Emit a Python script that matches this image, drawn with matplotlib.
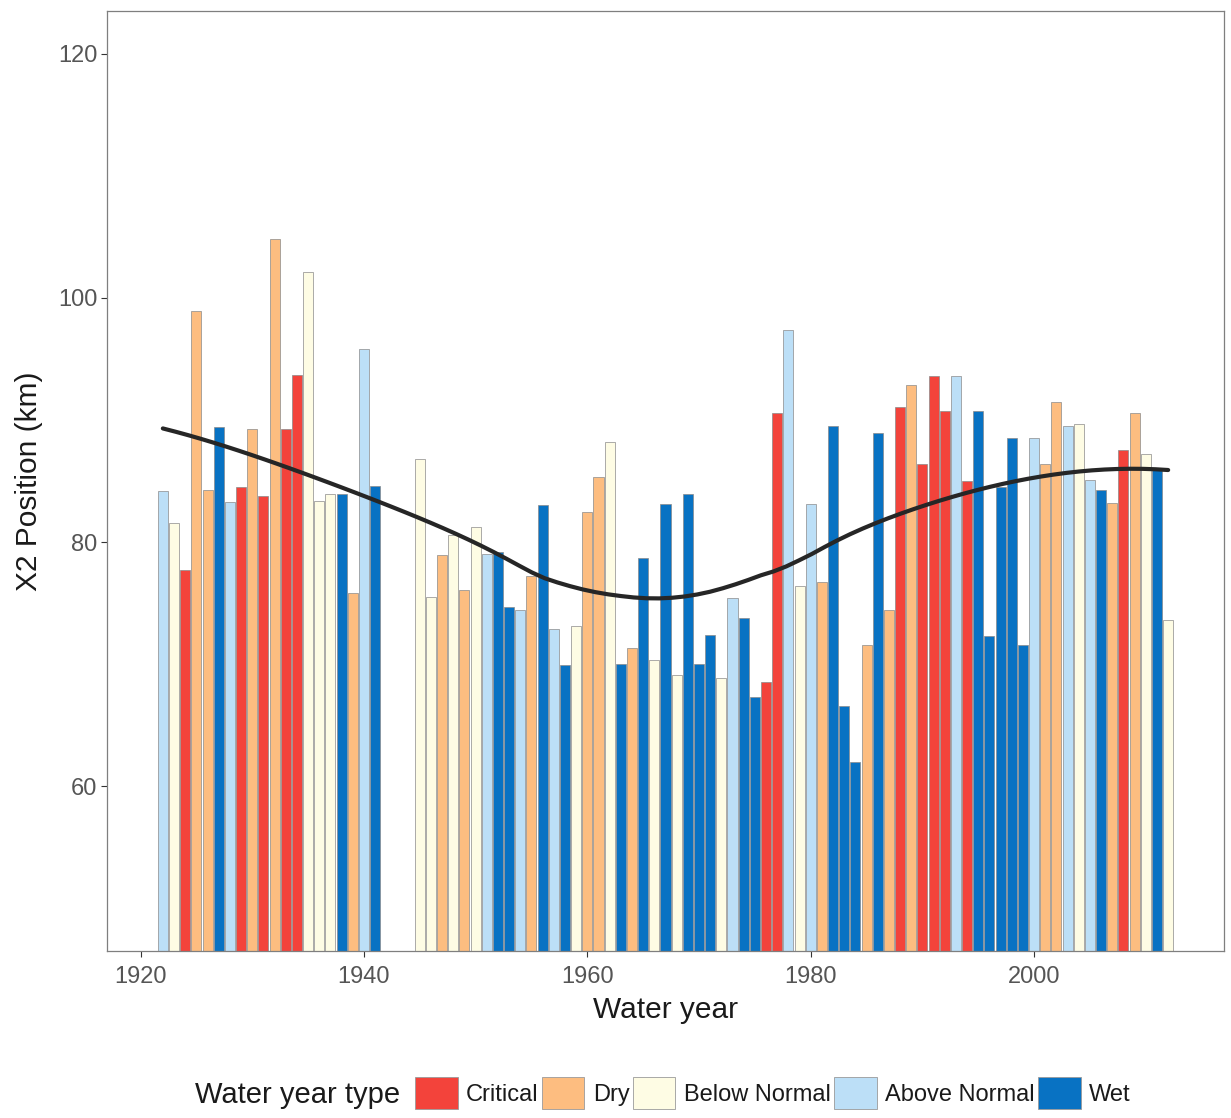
import numpy as np
import matplotlib.pyplot as plt
from matplotlib.patches import Patch

plt.rcParams['font.family'] = ['Liberation Sans', 'DejaVu Sans']

# X2 position by water year (no data 1942-1944)
years = list(range(1922, 1942)) + list(range(1945, 2013))
x2 = [84.2, 81.6, 77.7, 98.9, 84.3, 89.4, 83.3, 84.5, 89.3, 83.8,
      104.8, 89.3, 93.7, 102.1, 83.4, 83.9, 83.9, 75.8, 95.8, 84.6,
      86.8, 75.5, 78.9, 80.6, 76.1, 81.2, 79.0, 79.2, 74.7, 74.4,
      77.2, 83.0, 72.9, 69.9, 73.1, 82.5, 85.3, 88.2, 70.0, 71.3,
      78.7, 70.3, 83.1, 69.1, 83.9, 70.0, 72.4, 68.9, 75.4, 73.8,
      67.3, 68.5, 90.6, 97.4, 76.4, 83.1, 76.7, 89.5, 66.6, 62.0,
      71.6, 88.9, 74.4, 91.1, 92.9, 86.4, 93.6, 90.7, 93.6, 85.0,
      90.7, 72.3, 84.5, 88.5, 71.6, 88.5, 86.4, 91.5, 89.5, 89.7,
      85.1, 84.3, 83.2, 87.5, 90.6, 87.2, 86.1, 73.6]
wy_type = ['AN', 'BN', 'C', 'D', 'D', 'W', 'AN', 'C', 'D', 'C',
           'D', 'C', 'C', 'BN', 'BN', 'BN', 'W', 'D', 'AN', 'W',
           'BN', 'BN', 'D', 'BN', 'D', 'BN', 'AN', 'W', 'W', 'AN',
           'D', 'W', 'AN', 'W', 'BN', 'D', 'D', 'BN', 'W', 'D',
           'W', 'BN', 'W', 'BN', 'W', 'W', 'W', 'BN', 'AN', 'W',
           'W', 'C', 'C', 'AN', 'BN', 'AN', 'D', 'W', 'W', 'W',
           'D', 'W', 'D', 'C', 'D', 'C', 'C', 'C', 'AN', 'C',
           'W', 'W', 'W', 'W', 'W', 'AN', 'D', 'D', 'AN', 'BN',
           'AN', 'W', 'D', 'C', 'D', 'BN', 'W', 'BN']

type_codes = ['C', 'D', 'BN', 'AN', 'W']
type_names = ['Critical', 'Dry', 'Below Normal', 'Above Normal', 'Wet']
type_colors = ['#F3433B', '#FDBD80', '#FEFCE4', '#BCDFF7', '#0872C3']
cmap = dict(zip(type_codes, type_colors))


def loess(x, y, xs, span=0.75):
    # local quadratic fit with tricube weights
    x = np.asarray(x, float)
    y = np.asarray(y, float)
    q = int(np.floor(len(x) * span))
    out = []
    for x0 in xs:
        d = np.abs(x - x0)
        h = np.sort(d)[q - 1]
        w = np.clip(1 - (d / h) ** 3, 0, None) ** 3
        X = np.vstack([np.ones_like(x), x - x0, (x - x0) ** 2]).T
        W = np.sqrt(w)
        beta = np.linalg.lstsq(X * W[:, None], y * W, rcond=None)[0]
        out.append(beta[0])
    return np.array(out)


fig = plt.figure(figsize=(12.31, 11.18), dpi=100)
ax = fig.add_axes([107 / 1231, 1 - 951 / 1118, 1117 / 1231, 940 / 1118])

ax.bar(years, np.array(x2) - 46.5, bottom=46.5, width=0.9,
       color=[cmap[t] for t in wy_type], edgecolor='#8A8A8A', linewidth=0.5)

xs = np.linspace(min(years), max(years), 80)
ax.plot(xs, loess(years, x2, xs), color='#262626', lw=3.0, solid_capstyle='round')

ax.set_xlim(1917.0, 2017.0)
ax.set_ylim(46.5, 123.5)
ax.set_xticks([1920, 1940, 1960, 1980, 2000])
ax.set_yticks([60, 80, 100, 120])
ax.tick_params(colors='#333333', labelcolor='#555555', labelsize=17,
               length=4.5, width=0.8)
ax.tick_params(axis='x', pad=6)
ax.tick_params(axis='y', pad=2.5)
for s in ax.spines.values():
    s.set_color('#7F7F7F')
    s.set_linewidth(0.9)

ax.set_xlabel('Water year', fontsize=21.5, color='#1A1A1A', labelpad=6)
ax.set_ylabel('X2 Position (km)', fontsize=21.5, color='#1A1A1A', labelpad=11)

handles = [Patch(facecolor=c, edgecolor='#9A9A9A', linewidth=0.6) for c in type_colors]
fig.text(195 / 1231, 1 - 1095 / 1118, 'Water year type', fontsize=21,
         color='#1A1A1A', va='center', ha='left')
fig.legend(handles, type_names, loc='center left',
           bbox_to_anchor=(415 / 1231, 1 - 1093 / 1118), ncol=5,
           frameon=False, fontsize=17, handlelength=1.8, handleheight=1.75,
           handletextpad=0.35, columnspacing=0.15, borderpad=0,
           borderaxespad=0, labelcolor='#1A1A1A')

fig.savefig('out.png', dpi=100)
